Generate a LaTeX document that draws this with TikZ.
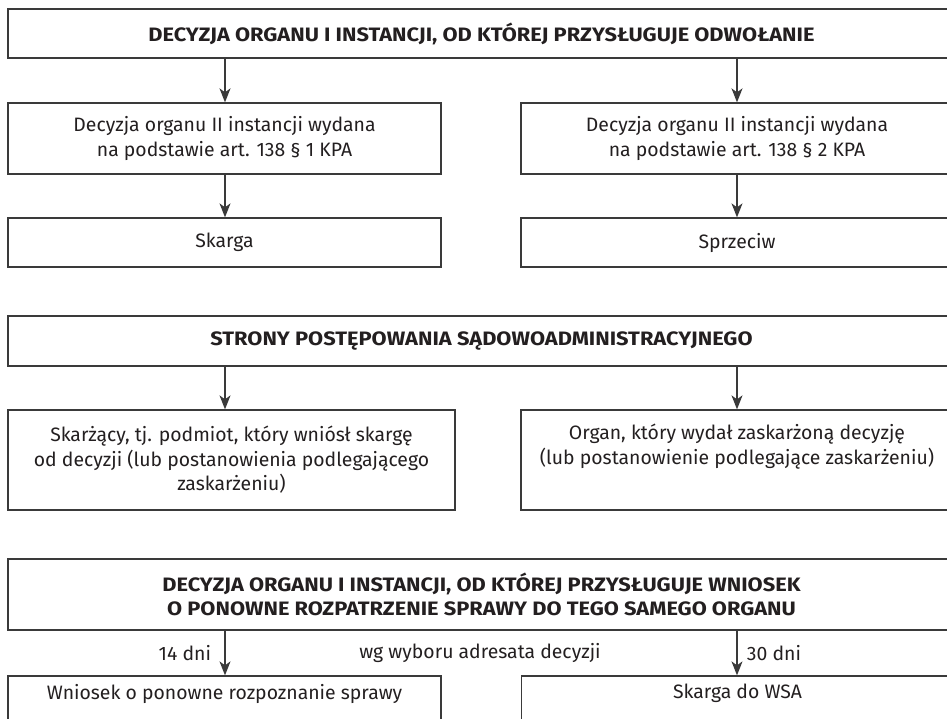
\documentclass[tikz,border=0pt]{standalone}
\usepackage{fontspec}
\setmainfont{Fira Sans}
\newfontfamily\headfont[FakeStretch=1.125]{Fira Sans}
\usetikzlibrary{arrows.meta,calc}
\definecolor{ink}{HTML}{231F20}
\definecolor{rulegray}{HTML}{3A3A3A}

\begin{document}
\begin{tikzpicture}[x=1pt,y=-1pt,font=\fontsize{19.4}{24.5}\selectfont,text=ink]
      \tikzstyle{box}=[draw=rulegray,line width=1.3pt,align=center,inner sep=0pt]
      \tikzstyle{head box}=[box,minimum width=947,font=\fontsize{19.4}{24.5}\selectfont\headfont\bfseries]
      \tikzstyle{left box}=[box,minimum width=433]
      \tikzstyle{right box}=[box,minimum width=432]
      \tikzstyle{flow}=[draw=rulegray,line width=1.3pt,-{Stealth[length=14pt,width=11pt,inset=4pt]}]

      \useasboundingbox (0,0) rectangle (947,719);
      \clip (0,0) rectangle (947,719);
      \coordinate (lc) at (225,0);
      \coordinate (rc) at (737,0);

      % odwolanie
      \node(0)[head box,minimum height=49] at (481.5,33.5)
          {DECYZJA ORGANU I INSTANCJI, OD KTÓREJ PRZYSŁUGUJE ODWOŁANIE};
      \node(1)[left box,minimum height=71] at (224.5,138.5)
          {Decyzja organu II instancji wydana\\ na podstawie art. 138 § 1 KPA};
      \node(2)[right box,minimum height=71] at (737,138.5)
          {Decyzja organu II instancji wydana\\ na podstawie art. 138 § 2 KPA};
      \node(3)[left box,minimum height=49] at (224.5,242.5) {Skarga};
      \node(4)[right box,minimum height=49] at (737,242.5) {Sprzeciw};
      \draw[flow] (0.south -| lc) -- (1.north -| lc);
      \draw[flow] (0.south -| rc) -- (2.north -| rc);
      \draw[flow] (1.south -| lc) -- (3.north -| lc);
      \draw[flow] (2.south -| rc) -- (4.north -| rc);

      % strony
      \node(5)[head box,minimum height=50] at (481.5,341)
          {STRONY POSTĘPOWANIA SĄDOWOADMINISTRACYJNEGO};
      \node(6)[box,minimum width=447,minimum height=100] at (231.5,460)
          {Skarżący, tj. podmiot, który wniósł skargę\\ od decyzji (lub postanowienia podlegającego\\ zaskarżeniu)};
      \node(7)[right box,minimum height=100] at (737,460)
          {Organ, który wydał zaskarżoną decyzję\\ (lub postanowienie podlegające zaskarżeniu)\\ \strut};
      \draw[flow] (5.south -| lc) -- (6.north -| lc);
      \draw[flow] (5.south -| rc) -- (7.north -| rc);

      % ponowne rozpatrzenie
      \node(8)[head box,minimum height=71] at (481.5,594.5)
          {DECYZJA ORGANU I INSTANCJI, OD KTÓREJ PRZYSŁUGUJE WNIOSEK\\ O PONOWNE ROZPATRZENIE SPRAWY DO TEGO SAMEGO ORGANU};
      \node(9)[left box,minimum height=49,text depth=18pt] at (224.5,700.5)
          {Wniosek o ponowne rozpoznanie sprawy};
      \node(10)[right box,minimum height=49,text depth=18pt] at (737.5,700.5)
          {Skarga do WSA};
      \node(11) at (480,653) {wg wyboru adresata decyzji};
      \draw[flow] (8.south -| lc) -- (9.north -| lc) node[midway,left,xshift=-10]{14 dni};
      \draw[flow] (8.south -| rc) -- (10.north -| rc) node[midway,right,xshift=6]{30 dni};
\end{tikzpicture}
\end{document}
